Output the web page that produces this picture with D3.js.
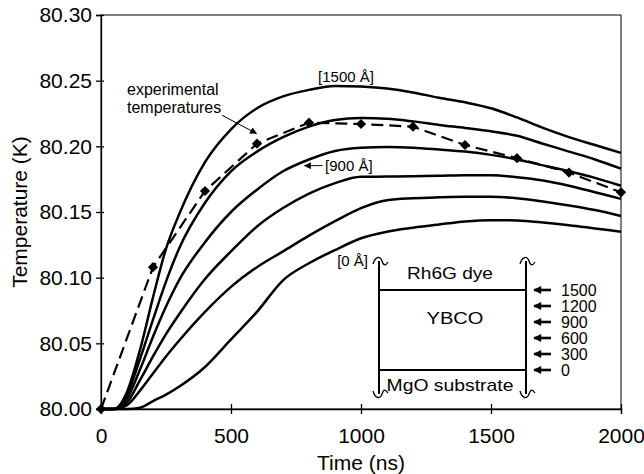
<!DOCTYPE html>
<html>
<head>
<meta charset="utf-8">
<script src="https://cdn.jsdelivr.net/npm/d3@7/dist/d3.min.js"></script>
<style>
    body { margin: 0; background: #fff; }
    svg { font-family: "Liberation Sans", Arial, sans-serif; }
    .curve { fill: none; stroke: #000; stroke-width: 2.5; }
    .exp-line { fill: none; stroke: #000; stroke-width: 2.2; stroke-dasharray: 12 6; }
    .axis path, .axis line { stroke: #000; stroke-width: 1.3; }
    .axis text { font-size: 21px; fill: #000; }
    .axis-title { font-size: 21px; }
    .note { font-size: 15px; }
    .inset text { font-size: 17px; }
</style>
</head>
<body>
<div id="chart"></div>
<script>
// simulated temperature at several depths in the YBCO film (K)
const timeNs = [0, 50, 100, 150, 200, 250, 300, 400, 500, 600, 700, 800, 900, 1000, 1100, 1200, 1300, 1400, 1500, 1600, 1700, 1800, 1900, 2000];

const temp1500 = [80.000, 80.000, 80.013, 80.045, 80.085, 80.122, 80.148, 80.188, 80.213, 80.229, 80.238, 80.243, 80.246, 80.2455, 80.244, 80.241, 80.237, 80.2335, 80.229, 80.222, 80.214, 80.207, 80.201, 80.195];
const temp1200 = [80.000, 80.000, 80.011, 80.038, 80.068, 80.097, 80.122, 80.157, 80.181, 80.196, 80.207, 80.215, 80.220, 80.2215, 80.221, 80.219, 80.2163, 80.214, 80.2115, 80.208, 80.202, 80.196, 80.190, 80.183];
const temp900 = [80.000, 80.000, 80.008, 80.030, 80.055, 80.078, 80.098, 80.127, 80.150, 80.167, 80.181, 80.190, 80.1965, 80.199, 80.1995, 80.199, 80.1976, 80.196, 80.1935, 80.190, 80.1855, 80.181, 80.176, 80.170];
const temp600 = [80.000, 80.000, 80.005, 80.022, 80.040, 80.057, 80.072, 80.099, 80.120, 80.139, 80.153, 80.164, 80.172, 80.1768, 80.177, 80.1773, 80.1776, 80.178, 80.178, 80.1765, 80.174, 80.170, 80.165, 80.160];
const temp300 = [80.000, 80.000, 80.003, 80.014, 80.027, 80.040, 80.052, 80.074, 80.093, 80.108, 80.120, 80.132, 80.143, 80.153, 80.159, 80.1605, 80.1612, 80.1616, 80.1616, 80.1605, 80.158, 80.155, 80.1515, 80.147];
const temp0 = [80.000, 80.000, 80.000, 80.001, 80.006, 80.011, 80.017, 80.032, 80.053, 80.074, 80.098, 80.111, 80.121, 80.130, 80.135, 80.138, 80.1405, 80.1428, 80.1438, 80.1435, 80.142, 80.140, 80.1375, 80.135];

// measured points
const expTime = [0, 200, 400, 600, 800, 1000, 1200, 1400, 1600, 1800, 2000];
const expTemp = [80.000, 80.108, 80.166, 80.202, 80.218, 80.217, 80.215, 80.201, 80.191, 80.180, 80.165];

const xTicks = [0, 500, 1000, 1500, 2000];
const yTicks = [80.00, 80.05, 80.10, 80.15, 80.20, 80.25, 80.30];
const depthTicks = [1500, 1200, 900, 600, 300, 0];

class TempChart {

    constructor(_parentElement) {
        this.parentElement = _parentElement;
        this.series = [temp1500, temp1200, temp900, temp600, temp300, temp0];
        this.initVis();
    }

    initVis() {
        let vis = this;

        vis.margin = { top: 15, right: 23, bottom: 65, left: 101 };
        vis.width = 644 - vis.margin.left - vis.margin.right;
        vis.height = 474 - vis.margin.top - vis.margin.bottom;

        vis.root = d3.select("#" + vis.parentElement).append("svg")
            .attr("width", 644)
            .attr("height", 474);

        let defs = vis.root.append("defs");
        defs.append("marker")
            .attr("id", "head")
            .attr("viewBox", "0 0 10 10")
            .attr("refX", 9).attr("refY", 5)
            .attr("markerUnits", "userSpaceOnUse")
            .attr("markerWidth", 8).attr("markerHeight", 7)
            .attr("orient", "auto")
            .append("path").attr("d", "M0,0L10,5L0,10Z");
        defs.append("marker")
            .attr("id", "bighead")
            .attr("viewBox", "0 0 10 10")
            .attr("refX", 9).attr("refY", 5)
            .attr("markerUnits", "userSpaceOnUse")
            .attr("markerWidth", 9).attr("markerHeight", 8)
            .attr("orient", "auto")
            .append("path").attr("d", "M0,0L10,5L0,10Z");

        vis.svg = vis.root.append("g")
            .attr("transform", "translate(" + vis.margin.left + "," + vis.margin.top + ")");

        vis.x = d3.scaleLinear().domain([0, 2000]).range([0, vis.width]);
        vis.y = d3.scaleLinear().domain([80.00, 80.30]).range([vis.height, 0]);

        vis.xAxis = d3.axisBottom(vis.x).tickValues(xTicks).tickSize(5).tickFormat(d3.format("d"));
        vis.yAxis = d3.axisLeft(vis.y).tickValues(yTicks).tickSize(5).tickFormat(d3.format(".2f"));

        // frame
        vis.svg.append("rect")
            .attr("width", vis.width)
            .attr("height", vis.height)
            .attr("fill", "none")
            .attr("stroke", "#000")
            .attr("stroke-width", 1);

        vis.svg.append("g")
            .attr("class", "x-axis axis")
            .attr("transform", "translate(0," + vis.height + ")");
        vis.svg.append("g")
            .attr("class", "y-axis axis");

        vis.svg.append("text")
            .attr("class", "axis-title")
            .attr("x", vis.width / 2)
            .attr("y", vis.height + 61)
            .attr("text-anchor", "middle")
            .text("Time (ns)");

        vis.svg.append("text")
            .attr("class", "axis-title")
            .attr("transform", "translate(-74," + vis.height / 2 + ") rotate(-90)")
            .attr("text-anchor", "middle")
            .text("Temperature (K)");

        vis.line = d3.line()
            .x(d => vis.x(d[0]))
            .y(d => vis.y(d[1]))
            .curve(d3.curveMonotoneX);

        vis.expLine = d3.line()
            .x(d => vis.x(d[0]))
            .y(d => vis.y(d[1]));

        vis.wrangleData();
    }

    wrangleData() {
        let vis = this;
        vis.displayData = vis.series.map(s => timeNs.map((t, i) => [t, s[i]]));
        vis.expData = expTime.map((t, i) => [t, expTemp[i]]);
        vis.updateVis();
    }

    updateVis() {
        let vis = this;

        vis.svg.select(".x-axis").call(vis.xAxis)
            .call(g => g.selectAll(".tick line").attr("y1", -5).attr("y2", 5))
            .call(g => g.selectAll(".tick text").attr("y", 19));
        vis.svg.select(".y-axis").call(vis.yAxis)
            .call(g => g.selectAll(".tick line").attr("x1", -5).attr("x2", 3))
            .call(g => g.selectAll(".tick text").attr("x", -9));

        vis.svg.selectAll(".curve")
            .data(vis.displayData)
            .join("path")
            .attr("class", "curve")
            .attr("d", vis.line);

        vis.svg.append("path")
            .datum(vis.expData)
            .attr("class", "exp-line")
            .attr("d", vis.expLine);

        vis.svg.selectAll(".exp-point")
            .data(vis.expData)
            .join("path")
            .attr("class", "exp-point")
            .attr("d", d3.symbol().type(d3.symbolSquare).size(52))
            .attr("transform", d => "translate(" + vis.x(d[0]) + "," + vis.y(d[1]) + ") rotate(45)")
            .attr("fill", "#000");

        // labels on the curves
        vis.svg.append("text").attr("class", "note")
            .attr("x", vis.x(835)).attr("y", vis.y(80.249))
            .text("[1500 Å]");

        vis.svg.append("text").attr("class", "note")
            .attr("x", vis.x(862)).attr("y", vis.y(80.181))
            .text("[900 Å]");
        vis.svg.append("line")
            .attr("x1", vis.x(852)).attr("y1", vis.y(80.1853))
            .attr("x2", vis.x(783)).attr("y2", vis.y(80.1853))
            .attr("stroke", "#000").attr("stroke-width", 1)
            .attr("marker-end", "url(#head)");

        vis.svg.append("text").attr("class", "note")
            .attr("x", vis.x(1027)).attr("y", vis.y(80.1088))
            .attr("text-anchor", "end")
            .text("[0 Å]");

        let exp = vis.svg.append("text").attr("class", "note")
            .style("font-size", "16px")
            .attr("x", vis.x(100)).attr("y", vis.y(80.239));
        exp.append("tspan").text("experimental");
        exp.append("tspan").attr("x", vis.x(100)).attr("dy", 18).text("temperatures");
        vis.svg.append("line")
            .attr("x1", vis.x(465)).attr("y1", vis.y(80.2237))
            .attr("x2", vis.x(598)).attr("y2", vis.y(80.2098))
            .attr("stroke", "#000").attr("stroke-width", 1)
            .attr("marker-end", "url(#head)");

        vis.drawInset();
    }

    drawInset() {
        let vis = this;

        let left = 379, right = 526, top = 259, bottom = 396;
        let depth = d3.scaleLinear().domain([0, 1500]).range([370, 290]);

        let g = vis.root.append("g").attr("class", "inset");

        g.selectAll(".wall")
            .data([left, right])
            .join("line")
            .attr("class", "wall")
            .attr("x1", d => d).attr("x2", d => d)
            .attr("y1", top + 2).attr("y2", bottom - 2)
            .attr("stroke", "#000").attr("stroke-width", 2);

        g.selectAll(".layer")
            .data([0, 1500])
            .join("line")
            .attr("class", "layer")
            .attr("x1", left).attr("x2", right)
            .attr("y1", d => depth(d)).attr("y2", d => depth(d))
            .attr("stroke", "#000").attr("stroke-width", 2);

        // break marks at the ends of the walls
        let ends = [[left, top, 1], [right, top, 1], [left, bottom, -1], [right, bottom, -1]];
        g.selectAll(".brk")
            .data(ends)
            .join("path")
            .attr("class", "brk")
            .attr("d", d => {
                let x = d[0], y = d[1], s = d[2];
                return "M" + (x - 6) + "," + (y + 5 * s) +
                    "C" + (x - 4) + "," + (y - 2 * s) + " " + (x + 1) + "," + (y - 4 * s) + " " + (x + 3) + "," + (y + 2 * s) +
                    "S" + (x + 7) + "," + (y + 6 * s) + " " + (x + 9) + "," + (y + 3 * s);
            })
            .attr("fill", "none").attr("stroke", "#000").attr("stroke-width", 1.3);

        g.append("text").attr("x", 450).attr("y", 279).attr("text-anchor", "middle")
            .attr("textLength", 86).attr("lengthAdjust", "spacingAndGlyphs").text("Rh6G dye");
        g.append("text").attr("x", 455).attr("y", 324).attr("text-anchor", "middle")
            .attr("textLength", 57).attr("lengthAdjust", "spacingAndGlyphs").text("YBCO");
        g.append("text").attr("x", 450).attr("y", 391).attr("text-anchor", "middle")
            .attr("textLength", 127).attr("lengthAdjust", "spacingAndGlyphs").text("MgO substrate");

        let rows = g.selectAll(".depth")
            .data(depthTicks)
            .join("g")
            .attr("class", "depth")
            .attr("transform", d => "translate(0," + depth(d) + ")");
        rows.append("line")
            .attr("x1", 551).attr("x2", 534)
            .attr("stroke", "#000").attr("stroke-width", 2.6)
            .attr("marker-end", "url(#bighead)");
        rows.append("text")
            .attr("x", 561)
            .attr("dy", "0.36em")
            .style("font-size", "16px")
            .text(d => d);
    }
}

new TempChart("chart");
</script>
</body>
</html>
